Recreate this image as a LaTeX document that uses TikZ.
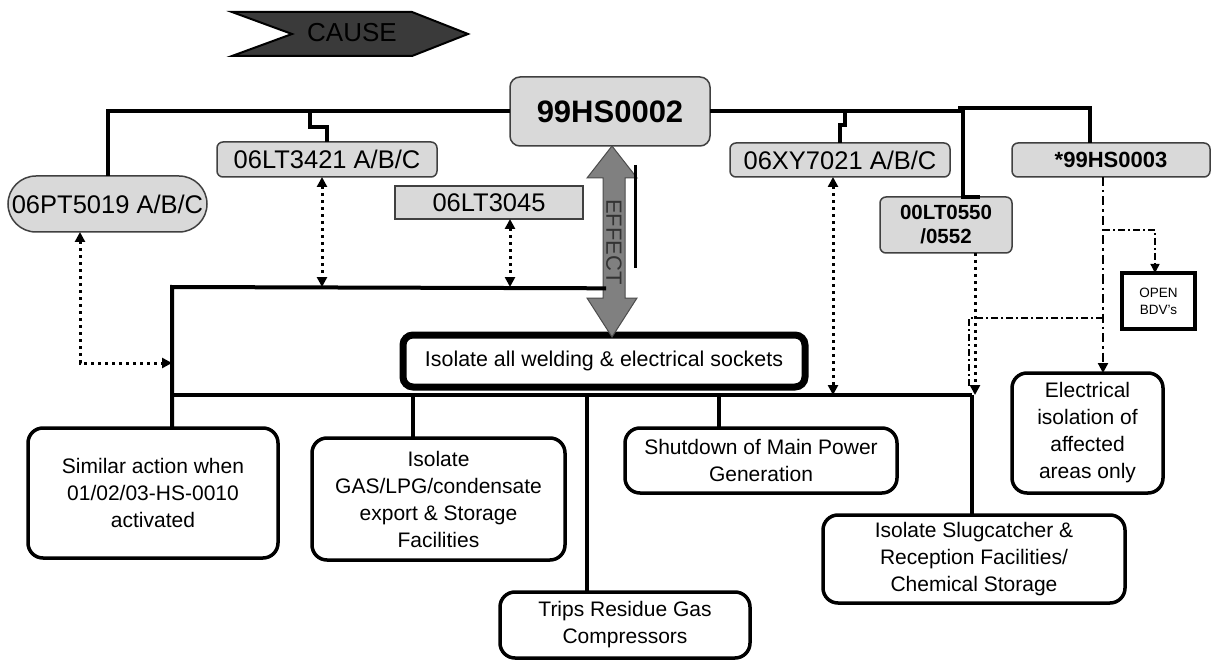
\documentclass[tikz,border=0pt]{standalone}
\usepackage{fontspec}
\setmainfont{Liberation Sans}
\usetikzlibrary{arrows.meta}
\newcommand\myfs[2]{\fontsize{#1}{#2}\selectfont}
\definecolor{boxgray}{HTML}{D9D9D9}
\definecolor{edgegray}{HTML}{404040}
\definecolor{causefill}{HTML}{3A3A3A}
\definecolor{effectfill}{HTML}{808080}
\tikzset{
  graybox/.style={draw=edgegray, fill=boxgray, line width=1.5pt, rounded corners=6pt, inner sep=0pt, outer sep=0pt, align=center},
  actbox/.style={draw=black, fill=white, line width=3.5pt, rounded corners=15pt, inner sep=0pt, outer sep=0pt, align=center, font=\myfs{21}{27}},
  bus/.style={draw=black, line width=4pt},
  dotline/.style={draw=black, line width=3pt, dash pattern=on 3pt off 4pt},
  dashdot/.style={draw=black, line width=2.3pt, dash pattern=on 9pt off 4pt on 2.5pt off 4pt},
  thindashdot/.style={draw=black, line width=1.4pt, dash pattern=on 7pt off 3pt on 2pt off 3pt},
  tip/.style={-{Triangle[length=10pt,width=10pt]}},
  bitip/.style={{Triangle[length=10pt,width=10pt]}-{Triangle[length=10pt,width=10pt]}},
}
\begin{document}
\begin{tikzpicture}[x=1pt,y=-1pt]
\useasboundingbox (0,0) rectangle (1212,660);
\fill[white] (0,0) rectangle (1212,660);

% CAUSE arrow
\draw[fill=causefill, line width=2pt, line join=miter] (232,12) -- (412,12) -- (468,34) -- (412,56) -- (232,56) -- (292,34) -- cycle;
\node[font=\myfs{26}{30}, text=black] (cause) at (352,33) {CAUSE};

% top nodes
\node[graybox, rounded corners=10pt, minimum width=200pt, minimum height=69pt, font=\myfs{31}{35}\bfseries] (hs2) at (610,111.5) {99HS0002};
\node[graybox, rounded corners=28pt, minimum width=199pt, minimum height=56pt, font=\myfs{25.5}{28}] (pt) at (107.5,204) {06PT5019 A/B/C};
\node[graybox, minimum width=220pt, minimum height=35pt, font=\myfs{25.5}{28}] (lt21) at (327,159.5) {06LT3421 A/B/C};
\node[graybox, rounded corners=0pt, minimum width=188pt, minimum height=33pt, font=\myfs{25.5}{28}] (lt45) at (489,202.5) {06LT3045};
\node[graybox, minimum width=220pt, minimum height=34pt, font=\myfs{25.5}{28}] (xy) at (840,160) {06XY7021 A/B/C};
\node[graybox, minimum width=198pt, minimum height=34pt, font=\myfs{22}{25}\bfseries] (hs3) at (1111,160) {*99HS0003};
\node[graybox, minimum width=132pt, minimum height=56pt, font=\myfs{20.5}{24}\bfseries] (lt50) at (946,225) {00LT0550\\/0552};
\node[draw=black, line width=4pt, fill=white, minimum width=73pt, minimum height=56pt, inner sep=0pt, outer sep=0pt, align=center, font=\myfs{13.5}{17}] (bdv) at (1158.5,301) {OPEN\\BDV's};

% action boxes
\node[actbox, line width=7pt, rounded corners=10pt, minimum width=402pt, minimum height=52pt, font=\myfs{21.4}{27}] (weld) at (604,361) {Isolate all welding \& electrical sockets};
\node[actbox, minimum width=250pt, minimum height=130pt] (sim) at (153,493) {Similar action when\\01/02/03-HS-0010\\activated};
\node[actbox, minimum width=253pt, minimum height=122pt] (gas) at (438.5,499) {Isolate\\GAS/LPG/condensate\\export \& Storage\\Facilities};
\node[actbox, minimum width=250pt, minimum height=66pt] (trips) at (625,625) {Trips Residue Gas\\Compressors};
\node[actbox, minimum width=272pt, minimum height=65pt] (shut) at (761,460.5) {Shutdown of Main Power\\Generation};
\node[actbox, minimum width=302pt, minimum height=88pt] (slug) at (974,559) {Isolate Slugcatcher \&\\Reception Facilities/\\Chemical Storage};
\node[actbox, minimum width=151pt, minimum height=120pt] (elec) at (1087.5,433) {Electrical\\isolation of\\affected\\areas only};

% EFFECT double arrow
\draw[fill=effectfill, draw=black!70, line width=1pt, line join=miter]
  (612,146) -- (637,178) -- (625,178) -- (625,298) -- (637,298) -- (612,337)
  -- (587,298) -- (603,298) -- (603,178) -- (587,178) -- cycle;
\node[rotate=-90, font=\myfs{22}{26}, text=black!80] (effect) at (614,242) {EFFECT};
\draw[line width=3pt] (635,165) -- (635,268);

% coordinates on buses
\coordinate (b21) at (310,111.5);
\coordinate (bxy) at (845,111.5);
\coordinate (rj) at (960,111.5);
\coordinate (mid) at (172,287);
\coordinate (low) at (172,395);
\coordinate (lowe) at (972,395);

% top bus
\draw[bus, line join=miter] (pt.north) |- (hs2.west);
\draw[bus, line join=miter] (lt21.north) -- ++(0,-15) -| (b21);
\draw[bus, line join=miter] (xy.north) -- ++(0,-18) -- ++(5,0) -- (bxy);
\draw[bus, line join=miter] (hs2.east) -- (rj) -- ++(0,-3.5) -| (hs3.north -| 1090,0);
\draw[bus, line join=miter] (963,108) -- (lt50.north -| 963,0) -- ++(17,0);

% middle and lower bus
\draw[bus, line join=miter] (effect.east -| 606,0) -- (mid) -- (sim.north -| mid);
\draw[bus] (low) -- (lowe);
\draw[bus] (lowe) -- (slug.north -| lowe);
\draw[bus] (413,395) -- (gas.north -| 413,0);
\draw[bus] (587,395) -- (trips.north -| 587,0);
\draw[bus] (719,395) -- (shut.north -| 719,0);

% dotted links
\draw[dotline, bitip] (pt.south -| 80,0) -- (80,363) -- (mid |- 0,363);
\draw[dotline, bitip] (lt21.south -| 322,0) -- (mid -| 322,0);
\draw[dotline, bitip] (lt45.south -| 510,0) -- (mid -| 510,0);
\draw[dotline, bitip] (xy.south -| 833,0) -- (low -| 833,0);
\draw[dotline, tip] (lt50.south -| 975,0) -- (low -| 975,0);

% dash-dot links from 99HS0003
\draw[dashdot, tip] (hs3.south -| 1103,0) -- (elec.north -| 1103,0);
\draw[thindashdot] (1103,318) -- (969,318) -- (969,388);
\draw[thindashdot, -{Triangle[length=9pt,width=9pt]}] (1103,230) -- (1155,230) -- (bdv.north -| 1155,0);
\end{tikzpicture}
\end{document}
